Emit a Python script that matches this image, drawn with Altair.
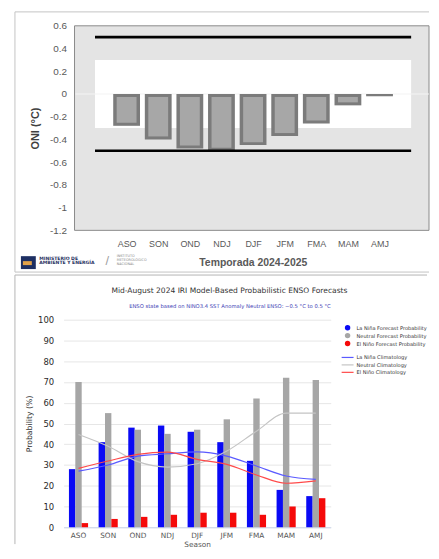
import json
import altair as alt
import pandas as pd

# ---------------- data ----------------
seasons = ["ASO", "SON", "OND", "NDJ", "DJF", "JFM", "FMA", "MAM", "AMJ"]

# top panel: ONI forecast (°C)
oni = [-0.28, -0.40, -0.48, -0.50, -0.45, -0.37, -0.26, -0.10, -0.02]
oni_ticks = [0.6, 0.4, 0.2, 0, -0.2, -0.4, -0.6, -0.8, -1, -1.2]
neutral_band = [-0.3, 0.3]
enso_thresholds = [-0.5, 0.5]

# bottom panel: IRI probabilities (%)
prob_series = ["La Niña Forecast Probability", "Neutral Forecast Probability", "El Niño Forecast Probability"]
lanina = [28, 41, 48, 49, 46, 41, 32, 18, 15]
neutral = [70, 55, 47, 45, 47, 52, 62, 72, 71]
elnino = [2, 4, 5, 6, 7, 7, 6, 10, 14]

clim_series = ["La Niña Climatology", "Neutral Climatology", "El Niño Climatology"]
clim_lanina = [27, 30, 34.3, 35.4, 36.3, 34.3, 29.5, 24.7, 23.1]
clim_neutral = [44.7, 39, 31.6, 29, 30.6, 36.7, 46.3, 55, 55]
clim_elnino = [28.4, 31.9, 35.1, 36.2, 32.7, 30.3, 25.2, 21.2, 22.3]
prob_ticks = list(range(0, 101, 10))

prob_colors = ["#0a0af5", "#a6a6a6", "#f50a0a"]
clim_colors = ["#5a5aff", "#c4c4c4", "#ff4a4a"]

n = len(seasons)
one = alt.Data(values=[{"k": 1}])


def txt(s, x, y, size, color, weight="normal", font="DejaVu Sans", align="left"):
    return alt.Chart(one).mark_text(
        text=s, font=font, fontSize=size, color=color, fontWeight=weight,
        align=align, baseline="middle",
    ).encode(x=alt.value(x), y=alt.value(y))


def hline(x1, x2, y, color):
    return alt.Chart(one).mark_rule(color=color, strokeWidth=1).encode(
        x=alt.value(x1), x2=alt.value(x2), y=alt.value(y))


def vline(x, y1, y2, color):
    return alt.Chart(one).mark_rule(color=color, strokeWidth=1).encode(
        x=alt.value(x), y=alt.value(y1), y2=alt.value(y2))


# ---------------- top panel ----------------
# both panels share the same left origin in the vertical concat; the top
# panel's grey plot area starts SHIFT px to the right of that origin.
SHIFT = 11
TW, TH = 368, 206
STEP = 360 / (n + 2)          # pixel width of one category slot
df_oni = pd.DataFrame({"season": seasons, "pos": list(range(1, n + 1)), "oni": oni})
df_band = pd.DataFrame({"x0": [0], "x1": [n + 1], "lo": [neutral_band[0]], "hi": [neutral_band[1]]})
df_thr = pd.DataFrame({"x0": [0, 0], "x1": [n + 1, n + 1], "y": enso_thresholds})

x_lo = -0.5 - SHIFT / STEP
xs_top = alt.Scale(domain=[x_lo, x_lo + TW / STEP], nice=False, zero=False)
ys_top = alt.Scale(domain=[min(oni_ticks), max(oni_ticks)], nice=False, zero=False)

x_axis_top = alt.Axis(
    values=list(range(1, n + 1)),
    labelExpr=json.dumps(seasons) + "[datum.value - 1]",
    ticks=False, domain=False, grid=False,
    labelFont="Liberation Sans", labelFontSize=9, labelColor="#595959", labelPadding=9,
    title=None,
)
y_axis_top = alt.Axis(
    values=oni_ticks, labelExpr="'' + datum.value", offset=-SHIFT,
    ticks=False, domain=False, grid=False,
    labelFont="Liberation Sans", labelFontSize=10, labelColor="#595959", labelPadding=8,
    title="ONI (°C)", titleFont="Liberation Sans", titleFontSize=11,
    titleFontWeight="bold", titleColor="#404040", titlePadding=9,
)

frame_top = [
    hline(-60 + SHIFT, TW, -14, "#c4c4c4"),
    hline(-60 + SHIFT, TW, 248, "#c4c4c4"),
    vline(-60 + SHIFT, -14, 248, "#c4c4c4"),
]
plot_bg = alt.Chart(one).mark_rect(fill="#e4e4e4", stroke="#8a8a8a", strokeWidth=1).encode(
    x=alt.value(SHIFT), x2=alt.value(TW), y=alt.value(0), y2=alt.value(TH))

band = alt.Chart(df_band).mark_rect(color="white").encode(
    x=alt.X("x0:Q", scale=xs_top, axis=x_axis_top),
    x2="x1:Q",
    y=alt.Y("lo:Q", scale=ys_top, axis=y_axis_top),
    y2="hi:Q",
)
zero_line = alt.Chart(one).mark_rule(color="#f4f4f4", strokeWidth=1.2).encode(
    x=alt.value(SHIFT + 1), x2=alt.value(TW), y=alt.Y("d:Q", scale=ys_top, axis=y_axis_top)
).transform_calculate(d="0")

bars_outer = alt.Chart(df_oni).mark_bar(size=27, color="#7b7b7b").encode(
    x=alt.X("pos:Q", scale=xs_top, axis=x_axis_top),
    y=alt.Y("oni:Q", scale=ys_top, axis=y_axis_top),
    y2=alt.datum(0),
)
bars_inner = alt.Chart(df_oni).mark_bar(size=20, color="#a7a7a7", yOffset=-3, y2Offset=3).encode(
    x=alt.X("pos:Q", scale=xs_top, axis=x_axis_top),
    y=alt.Y("oni:Q", scale=ys_top, axis=y_axis_top),
    y2=alt.datum(0),
).transform_filter("datum.oni < -0.06")

thr = alt.Chart(df_thr).mark_rule(color="black", strokeWidth=2.6).encode(
    x=alt.X("x0:Q", scale=xs_top, axis=x_axis_top),
    x2="x1:Q",
    y=alt.Y("y:Q", scale=ys_top, axis=y_axis_top),
)

x_title_top = txt("Temporada 2024-2025", 191, 239, 10.5, "#595959", "bold", "Liberation Sans", "center")

logo_box = alt.Chart(one).mark_rect(color="#1d2f63").encode(
    x=alt.value(-54 + SHIFT), x2=alt.value(-39 + SHIFT), y=alt.value(232), y2=alt.value(245))
logo_shape = alt.Chart(one).mark_rect(color="#e2a24a").encode(
    x=alt.value(-52 + SHIFT), x2=alt.value(-43 + SHIFT), y=alt.value(237), y2=alt.value(241))

logo_texts = [
    txt("MINISTERIO DE", -35.5 + SHIFT, 234.5, 4.6, "#1f3060", "bold"),
    txt("AMBIENTE Y ENERGÍA", -35.5 + SHIFT, 239.2, 4.6, "#1f3060", "bold"),
    txt("/", 33 + SHIFT, 237, 13, "#a0a0a0", "normal", "Liberation Sans", "center"),
    txt("INSTITUTO", 42.5 + SHIFT, 231.8, 3.4, "#8a8a8a"),
    txt("METEOROLÓGICO", 42.5 + SHIFT, 235.6, 3.4, "#8a8a8a"),
    txt("NACIONAL", 42.5 + SHIFT, 239.4, 3.4, "#8a8a8a"),
]

top = alt.layer(
    *frame_top, plot_bg, band, zero_line, bars_outer, bars_inner, thr, x_title_top,
    logo_box, logo_shape, *logo_texts
).properties(
    width=TW, height=TH,
    view=alt.ViewBackground(fill="transparent", stroke="transparent"),
)

# ---------------- bottom panel ----------------
BW, BH = 269, 209
rows = []
for s, vals in zip(prob_series, [lanina, neutral, elnino]):
    for season, v in zip(seasons, vals):
        rows.append({"season": season, "series": s, "value": v})
df_prob = pd.DataFrame(rows)

rows = []
for s, vals in zip(clim_series, [clim_lanina, clim_neutral, clim_elnino]):
    for season, v in zip(seasons, vals):
        rows.append({"season": season, "series": s, "value": v})
df_clim = pd.DataFrame(rows)

xs_bot = alt.Scale(domain=seasons, paddingInner=0.355, paddingOuter=0.18)
ys_bot = alt.Scale(domain=[0, 100], nice=False)
fill_scale = alt.Scale(domain=prob_series, range=prob_colors)
stroke_scale = alt.Scale(domain=clim_series, range=clim_colors)

x_axis_bot = alt.Axis(
    ticks=False, domain=True, domainColor="#ccd6eb", grid=False, labelAngle=0,
    labelFont="DejaVu Sans", labelFontSize=7.4, labelColor="#555555", labelPadding=4,
    title="Season", titleFont="DejaVu Sans", titleFontSize=7.4, titleFontWeight="normal",
    titleColor="#555555", titlePadding=2,
)
y_axis_bot = alt.Axis(
    values=prob_ticks, ticks=False, domain=False, grid=True, gridColor="#e6e6e6",
    labelFont="DejaVu Sans", labelFontSize=8.5, labelColor="#2a2a2a", labelPadding=10,
    title="Probability (%)", titleFont="DejaVu Sans", titleFontSize=7.8,
    titleFontWeight="normal", titleColor="#333333", titlePadding=4,
)

frame_bot = [
    hline(-49, 366, -45, "#b4b4b4"),
    vline(-49, -45, 226, "#b4b4b4"),
]

prob_bars = alt.Chart(df_prob).mark_bar().encode(
    x=alt.X("season:N", scale=xs_bot, axis=x_axis_bot, sort=seasons),
    xOffset=alt.XOffset("series:N", scale=alt.Scale(domain=prob_series, paddingInner=0.0)),
    y=alt.Y("value:Q", scale=ys_bot, axis=y_axis_bot),
    fill=alt.Fill("series:N", scale=fill_scale, legend=None),
)

clim_lines = alt.Chart(df_clim).mark_line(strokeWidth=1.2, interpolate="monotone").encode(
    x=alt.X("season:N", scale=xs_bot, axis=x_axis_bot, sort=seasons),
    y=alt.Y("value:Q", scale=ys_bot, axis=y_axis_bot),
    stroke=alt.Stroke("series:N", scale=stroke_scale, legend=None),
)

main_bot = alt.layer(prob_bars, clim_lines)

# legends (built from the series names, coloured through the same scales)
df_leg1 = pd.DataFrame({"series": prob_series})
df_leg2 = pd.DataFrame({"series": clim_series})
leg1_y = alt.Y("series:N", scale=alt.Scale(type="point", domain=prob_series, range=[8, 24], padding=0), axis=None)
leg2_y = alt.Y("series:N", scale=alt.Scale(type="point", domain=clim_series, range=[38, 53], padding=0), axis=None)

leg1 = alt.layer(
    alt.Chart(df_leg1).mark_point(shape="circle", size=30, filled=True, opacity=1, strokeWidth=0).encode(
        x=alt.value(286), y=leg1_y, fill=alt.Fill("series:N", scale=fill_scale, legend=None)),
    alt.Chart(df_leg1).mark_text(align="left", baseline="middle", font="DejaVu Sans", fontSize=5.1,
                                 color="#333333").encode(x=alt.value(295), y=leg1_y, text="series:N"),
)
leg2 = alt.layer(
    alt.Chart(df_leg2).mark_rule(strokeWidth=1.2).encode(
        x=alt.value(280), x2=alt.value(292), y=leg2_y,
        stroke=alt.Stroke("series:N", scale=stroke_scale, legend=None)),
    alt.Chart(df_leg2).mark_text(align="left", baseline="middle", font="DejaVu Sans", fontSize=5.1,
                                 color="#333333").encode(x=alt.value(295), y=leg2_y, text="series:N"),
)

title_bot = txt("Mid-August 2024 IRI Model-Based Probabilistic ENSO Forecasts", 167, -29, 7.6,
                "#333333", "normal", "DejaVu Sans", "center")
subtitle_bot = txt("ENSO state based on NINO3.4 SST Anomaly Neutral ENSO: −0.5 °C to 0.5 °C", 167.5, -14,
                   5.3, "#3c3cb4", "normal", "DejaVu Sans", "center")

bottom = alt.layer(*frame_bot, main_bot, leg1, leg2, title_bot, subtitle_bot).resolve_scale(
    y="independent"
).properties(
    width=BW, height=BH,
    view=alt.ViewBackground(fill="white", stroke="transparent"),
)

chart = alt.vconcat(top, bottom, spacing=1).properties(
    padding={"left": 6, "top": 1, "right": 0, "bottom": 0}
)

chart.save("out.html", embed_options={"renderer": "svg", "actions": False})
